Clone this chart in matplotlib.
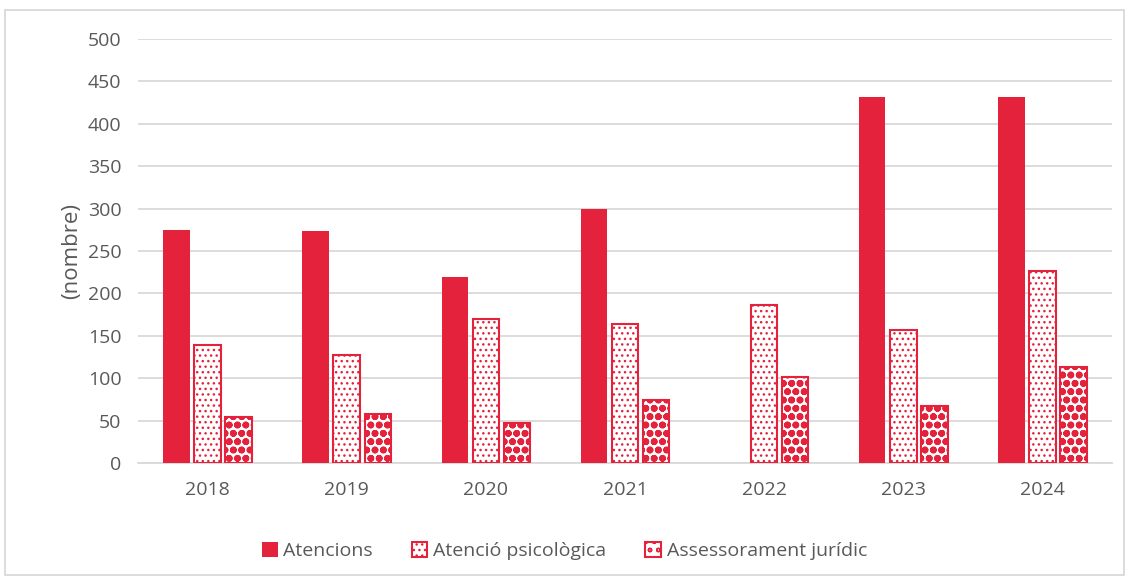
import matplotlib.pyplot as plt
import matplotlib.patches as mpatches
import numpy as np

years = ["2018", "2019", "2020", "2021", "2022", "2023", "2024"]
atencions = [275, 273, 219, 300, 0, 432, 432]
psicologica = [139, 127, 170, 164, 186, 157, 226]
juridic = [54, 58, 47, 74, 101, 67, 113]

red = "#e4223c"
grey = "#595959"

plt.rcParams["font.family"] = ["Open Sans", "DejaVu Sans"]

fig = plt.figure(figsize=(11.29, 5.78), dpi=100)
ax = fig.add_axes([138 / 1129, 1 - 463 / 578, (1112 - 138) / 1129, 424 / 578])

x = np.arange(len(years))
w = 0.19
step = 0.223

ax.bar(x - step, atencions, w, color=red, linewidth=0,
       label="Atencions", zorder=3)
plt.rcParams["hatch.linewidth"] = 1.0
b2 = ax.bar(x, psicologica, w, color="white", edgecolor=red, hatch="...",
            linewidth=1.5, label="Atenció psicològica", zorder=3)
b3 = ax.bar(x + step, juridic, w, color="white", edgecolor=red, hatch="oo",
            linewidth=1.5, label="Assessorament jurídic", zorder=3)
for p in b3:
    if hasattr(p, "set_hatch_linewidth"):
        p.set_hatch_linewidth(2.5)

ax.set_ylim(0, 500)
ax.set_xlim(-0.5, len(years) - 0.5)
ax.set_yticks(range(0, 501, 50))
ax.set_xticks(x)
ax.set_xticklabels(years)
ax.tick_params(axis="both", length=0, labelsize=14, colors=grey)
ax.tick_params(axis="x", pad=13)
ax.tick_params(axis="y", pad=12)
ax.grid(axis="y", color="#d9d9d9", linewidth=1.3, zorder=0)
for s in ["top", "right", "left"]:
    ax.spines[s].set_visible(False)
ax.spines["bottom"].set_color("#d9d9d9")
ax.spines["bottom"].set_linewidth(1.3)
ax.set_ylabel("(nombre)", fontsize=16, color=grey, labelpad=4)

leg = fig.legend(loc="lower center", bbox_to_anchor=(0.5, 0.0), ncol=3,
                 frameon=False, fontsize=14, handlelength=0.8, handleheight=0.8,
                 handletextpad=0.3, columnspacing=2.0, labelcolor=grey)

fig.patches.append(mpatches.Rectangle((5 / 1129, 3 / 578), 1119 / 1129, 565 / 578,
                                      transform=fig.transFigure, fill=False,
                                      edgecolor="#d9d9d9", linewidth=1.3))

fig.savefig("out.png", dpi=100)
